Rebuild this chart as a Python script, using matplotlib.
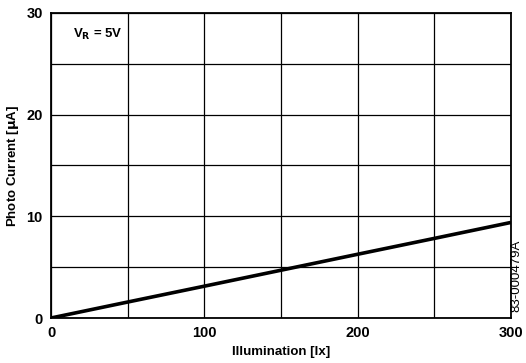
import numpy as np
import matplotlib
matplotlib.use("Agg")
from matplotlib import pyplot as plt

plt.rcParams['font.family'] = ['Liberation Sans', 'DejaVu Sans']

# data
illum = [0, 50, 100, 150, 200, 250, 300]
current = [0, 1.57, 3.13, 4.7, 6.27, 7.83, 9.4]
x_ticks = [0, 100, 200, 300]
y_ticks = [0, 10, 20, 30]

fig = plt.figure(figsize=(5.26, 3.63), dpi=100)
ax = fig.add_axes([51 / 526, 1 - 318 / 363, 460 / 526, 305 / 363])

ax.plot(illum, current, color='black', linewidth=2.6, solid_capstyle='butt', zorder=3)

ax.set_xlim(0, 300)
ax.set_ylim(0, 30)
ax.set_xticks(np.arange(0, 301, 50), minor=True)
ax.set_yticks(np.arange(0, 31, 5), minor=True)
ax.set_xticks(x_ticks)
ax.set_yticks(y_ticks)
ax.grid(True, which='both', color='black', linewidth=0.9)
ax.tick_params(which='both', length=0, pad=6, labelsize=10.5)
for lbl in ax.get_xticklabels() + ax.get_yticklabels():
    lbl.set_fontweight('bold')
for s in ax.spines.values():
    s.set_linewidth(1.3)

ax.set_xlabel('Illumination [lx]', fontsize=9.5, fontweight='bold')
ax.set_ylabel('Photo Current [$\\mathbf{\\mu}$A]', fontsize=9.5, fontweight='bold')
# place labels by axes fraction
ax.xaxis.set_label_coords((281 - 51) / 460, -(352 - 318) / 305)
ax.yaxis.set_label_coords(-(51 - 13) / 460, 0.5)
ax.xaxis.label.set_va('center')
ax.yaxis.label.set_va('center')

ax.text(0.047, 0.93, r'V$_\mathbf{R}$ = 5V', transform=ax.transAxes,
        fontsize=9.5, fontweight='bold', va='center', ha='left')

fig.text(516 / 526, 1 - 276 / 363, '83-000479A', rotation=90, fontsize=9.5,
         ha='center', va='center')

fig.savefig('out.png', dpi=100)
